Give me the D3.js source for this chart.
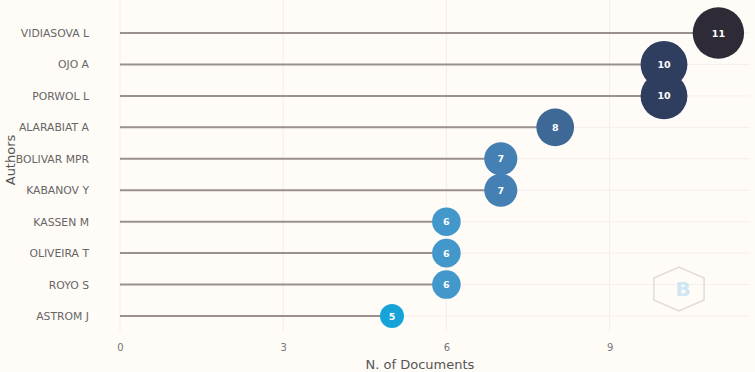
<!DOCTYPE html>
<html>
<head>
<meta charset="utf-8">
<script src="https://cdn.jsdelivr.net/npm/d3@7"></script>
<style>
  body { margin: 0; background: #fffbf7; }
  svg { display: block; }
</style>
</head>
<body>
<div id="chart"></div>
<script>
const authors = ['VIDIASOVA L', 'OJO A', 'PORWOL L', 'ALARABIAT A', 'BOLIVAR MPR',
                 'KABANOV Y', 'KASSEN M', 'OLIVEIRA T', 'ROYO S', 'ASTROM J'];
const documents = [11, 10, 10, 8, 7, 7, 6, 6, 6, 5];
const xTicks = [0, 3, 6, 9];
const colorValues = [5, 6, 7, 8, 10, 11];
const colorList = ['#16a3d8', '#4398cb', '#4580b5', '#3e6996', '#2f3e5e', '#2e2b36'];

const width = 755, height = 372;
const margin = { top: 17, right: 5, bottom: 40, left: 120 };

const svg = d3.select('#chart').append('svg')
  .attr('width', width).attr('height', height)
  .style('font-family', '"DejaVu Sans", sans-serif');

svg.append('rect').attr('width', width).attr('height', height).attr('fill', '#fffbf7');

const x = d3.scaleLinear().domain([0, 11.6]).range([margin.left, margin.left + 11.6 * 54.4]);
const y = d3.scalePoint().domain(authors).range([33, 316]);
const r = d3.scaleLinear().domain([5, 11]).range([12, 25.7]);
const color = d3.scaleOrdinal().domain(colorValues).range(colorList);

// grid
svg.append('g').selectAll('line').data(xTicks).enter().append('line')
  .attr('x1', d => x(d)).attr('x2', d => x(d))
  .attr('y1', 0).attr('y2', 332)
  .attr('stroke', '#f3ede8').attr('stroke-width', 1);
svg.append('g').selectAll('line').data(authors).enter().append('line')
  .attr('x1', margin.left).attr('x2', 750)
  .attr('y1', d => y(d)).attr('y2', d => y(d))
  .attr('stroke', '#f6efea').attr('stroke-width', 1);

// watermark
const hex = d3.range(6).map(i => {
  const a = Math.PI / 3 * i + Math.PI / 6;
  return [679 + 29 * Math.cos(a), 289 + 22 * Math.sin(a)];
});
svg.append('polygon').attr('points', hex.map(p => p.join(',')).join(' '))
  .attr('fill', 'none').attr('stroke', '#e2dcd8').attr('stroke-width', 1.5);
svg.append('text').attr('x', 683).attr('y', 296).attr('text-anchor', 'middle')
  .style('font-size', '20px').style('font-weight', 'bold').attr('fill', '#cfe6f3').text('B');

// axes labels
const xAxis = d3.axisBottom(x).tickValues(xTicks).tickSize(0).tickPadding(8);
const gx = svg.append('g').attr('transform', 'translate(0,336)').call(xAxis);
gx.select('.domain').remove();
gx.selectAll('text').attr('fill', '#777').style('font-size', '10px').style('font-family', '"DejaVu Sans", sans-serif');

const yAxis = d3.axisLeft(y).tickSize(0).tickPadding(31);
const gy = svg.append('g').attr('transform', `translate(${margin.left},0)`).call(yAxis);
gy.select('.domain').remove();
gy.selectAll('text').attr('fill', '#666').style('font-size', '10.8px').style('font-family', '"DejaVu Sans", sans-serif');

svg.append('text').attr('x', 420).attr('y', 369).attr('text-anchor', 'middle')
  .attr('fill', '#555').style('font-size', '13px').text('N. of Documents');
svg.append('text').attr('transform', 'translate(15,160) rotate(-90)').attr('text-anchor', 'middle')
  .attr('fill', '#555').style('font-size', '13px').text('Authors');

// lollipops
const rows = authors.map((a, i) => ({ author: a, value: documents[i] }));
const g = svg.append('g');
g.selectAll('line.stem').data(rows).enter().append('line')
  .attr('class', 'stem')
  .attr('x1', x(0)).attr('x2', d => x(d.value))
  .attr('y1', d => y(d.author)).attr('y2', d => y(d.author))
  .attr('stroke', '#9a918f').attr('stroke-width', 2);
g.selectAll('circle').data(rows).enter().append('circle')
  .attr('cx', d => x(d.value)).attr('cy', d => y(d.author))
  .attr('r', d => r(d.value)).attr('fill', d => color(d.value));
g.selectAll('text.val').data(rows).enter().append('text')
  .attr('class', 'val')
  .attr('x', d => x(d.value)).attr('y', d => y(d.author) + 3.5)
  .attr('text-anchor', 'middle').attr('fill', '#fff')
  .style('font-size', '9.5px').style('font-weight', 'bold')
  .text(d => d.value);
</script>
</body>
</html>
